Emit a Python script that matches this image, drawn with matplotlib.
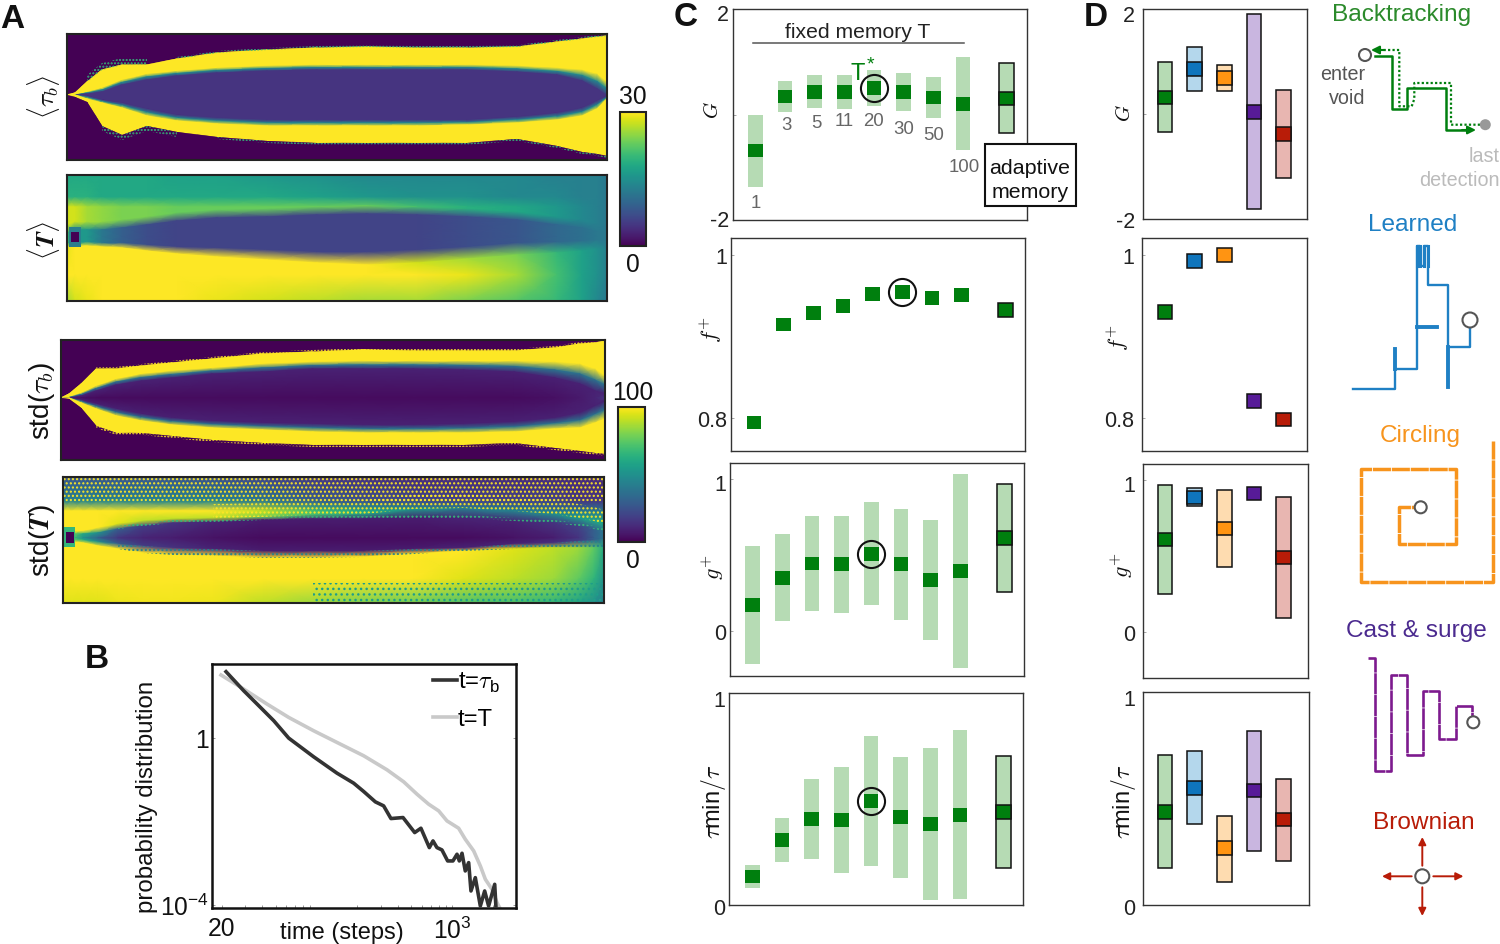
import numpy as np
import matplotlib
matplotlib.use('Agg')
import matplotlib.pyplot as plt
from matplotlib.patches import Rectangle, Circle
from matplotlib.transforms import ScaledTranslation
from matplotlib.ticker import NullFormatter

plt.rcParams['font.family'] = ['Liberation Sans', 'DejaVu Sans']
plt.rcParams['mathtext.fontset'] = 'cm'
plt.rcParams['hatch.linewidth'] = 1.0

W, H = 1500, 945

# ---------- panel A: level rows read across the map (grid cols, grid rows from top)
map_cols = np.array([0, 8, 20, 35, 55, 80, 110, 150, 200, 250, 300, 350, 400, 450, 490, 515, 530, 540])

tau_outer_up = np.array([61, 59, 48, 36, 31, 31, 25, 19, 16, 14, 13, 14, 14, 13, 8, 5, 3, 2.])
tau_yellow_up = np.array([61, 61, 58, 54, 46, 40, 37, 34, 32, 31, 31, 31, 31, 32, 34, 36, 40, 48.])
tau_core_up = np.array([61, 61, 60, 58, 51, 46, 42, 39, 37, 36, 36, 36, 36, 38, 41, 47, 55, 62.])
tau_core_lo = np.array([61, 61, 62, 66, 69, 75, 81, 84, 86, 86, 86, 86, 86, 83, 79, 74, 67, 62.])
tau_yellow_lo = np.array([61, 61, 65, 69, 74, 82, 87, 90, 92, 92, 92, 92, 91, 89, 86, 82, 75, 65.])
tau_outer_lo = np.array([61, 63, 68, 92, 101, 92, 98, 103, 107, 109, 109, 109, 109, 105, 112, 118, 120, 122.])

T_top_z = [18, 18, 18, 18, 18, 18, 17, 17, 16, 15, 14, 14, 14, 14, 13, 13, 13, 12]
T_r1_z = [19, 19, 19, 18, 18, 18, 18, 18, 18, 17, 16, 15, 15, 14, 14, 13, 13, 12]
T_band_z = [28, 28, 26, 25, 24, 24, 23, 23, 23, 23, 23, 21, 19, 18, 16, 14, 13, 12]
T_core_top = np.array([58, 55, 55, 55, 53, 50, 46, 43, 42, 40, 39, 40, 42, 45, 50, 53, 57, 57.])
T_core_bot = np.array([68, 68, 67, 68, 68, 70, 72, 73, 75, 77, 77, 75, 72, 68, 67, 66, 65, 65.])
T_core_z = [20, 16, 16, 12, 9, 7, 6, 6, 6, 6, 6, 6, 7, 8, 10, 11, 12, 12]
T_yellow_y = np.array([72, 72, 71, 72, 73, 76, 79, 82, 85, 88, 90, 88, 84, 80, 78, 76, 74, 74.])
T_yellow_z = [29, 30, 30, 30, 30, 30, 30, 30, 30, 30, 30, 28, 26, 24, 20, 17, 15, 13]
T_r8_z = [30, 30, 30, 30, 30, 30, 30, 30, 30, 30, 30, 30, 29, 26, 21, 17, 15, 13]
T_bot_z = [26, 28, 29, 30, 30, 30, 30, 29, 28, 27, 26, 26, 24, 22, 20, 17, 14, 12]

st_outer_up = np.array([58, 54, 44, 29, 29, 26, 23, 19, 14, 12, 10, 11, 11, 11, 8, 4, 3, 1.])
st_yellow_up = np.array([58, 57, 53, 46, 39, 34, 31, 28, 24, 22, 21, 21, 21, 21, 22, 24, 29, 36.])
st_dark_up = np.array([58, 58, 56, 51, 45, 41, 38, 34, 32, 29, 29, 29, 30, 32, 38, 44, 51, 54.])
st_dark_lo = np.array([58, 58, 60, 64, 69, 74, 78, 81, 83, 84, 85, 85, 84, 82, 78, 73, 66, 61.])
st_yellow_lo = np.array([58, 58, 63, 69, 76, 81, 85, 88, 90, 92, 93, 93, 93, 92, 89, 88, 83, 79.])
st_outer_lo = np.array([58, 59, 68, 86, 93, 93, 96, 100, 103, 105, 105, 105, 105, 103, 108, 111, 113, 114.])
st_center_z = [20, 8, 4, 3, 3, 3, 3, 3, 3, 3, 3, 3, 3, 3, 4, 7, 10, 15]

sT_r0_z = [26, 26, 26, 26, 26, 26, 26, 24, 20, 16, 14, 12, 12, 12, 12, 12, 12, 12]
sT_r1_z = [45, 45, 45, 45, 45, 45, 45, 45, 40, 30, 25, 22, 20, 20, 20, 16, 16, 16]
sT_r2_z = [100, 100, 100, 100, 100, 100, 100, 100, 90, 70, 60, 55, 50, 45, 40, 40, 40, 40]
sT_r3_y = np.array([54, 54, 54, 51, 47, 44, 42, 41, 40, 38, 37, 32, 31, 34, 37, 41, 44, 47.])
sT_r3_z = [100, 100, 100, 100, 95, 90, 90, 90, 80, 70, 60, 55, 45, 45, 50, 55, 60, 60]
sT_r4_y = np.array([57, 57, 57, 56, 52, 49, 46, 45, 43, 42, 42, 41, 41, 44, 46, 49, 52, 54.])
sT_r4_z = [90, 80, 60, 50, 30, 18, 15, 10, 8, 8, 8, 8, 10, 10, 15, 20, 30, 40]
sT_r5_z = [90, 70, 50, 30, 15, 10, 8, 5, 3, 3, 3, 3, 3, 5, 8, 15, 30, 40]
sT_r6_y = np.array([63, 63, 63, 65, 67, 69, 71, 72, 74, 74, 74, 72, 71, 67, 66, 64, 63, 62.])
sT_r7_y = np.array([65, 65, 66, 69, 72, 76, 78, 79, 81, 81, 80, 77, 74, 72, 71, 71, 71, 71.])
sT_r7_z = [100, 100, 100, 100, 100, 100, 100, 100, 100, 100, 100, 100, 100, 95, 90, 85, 75, 60]
sT_r8_z = [100, 100, 100, 100, 100, 100, 100, 100, 100, 100, 100, 100, 95, 90, 85, 75, 65, 50]
sT_r9_z = [95, 95, 95, 95, 97, 98, 98, 97, 90, 85, 80, 78, 72, 70, 65, 58, 50, 42]

# ---------- panel B (log10 coordinates)
tb_logx = [1.334, 1.464, 1.563, 1.686, 1.796, 1.980, 2.152, 2.275, 2.349, 2.435, 2.496, 2.550, 2.639, 2.725, 2.771,
           2.833, 2.860, 2.889, 2.926, 2.968, 3.007, 3.037, 3.054, 3.074, 3.098, 3.123, 3.140, 3.172, 3.209, 3.241,
           3.270, 3.315, 3.324]
tb_logy = [1.584, 1.128, .808, .408, -.008, -.456, -.848, -1.088, -1.288, -1.536, -1.632, -1.936, -1.912, -2.272,
           -2.168, -2.632, -2.472, -2.632, -2.688, -2.952, -2.952, -2.792, -2.952, -2.768, -3.192, -2.992, -3.672,
           -3.352, -4.032, -3.672, -4.032, -3.512, -4.05]
T_logx = [1.297, 1.464, 1.636, 1.796, 1.980, 2.152, 2.349, 2.521, 2.644, 2.742, 2.828, 2.902, 2.963, 3.049, 3.098,
          3.160, 3.209, 3.246, 3.295, 3.332, 3.351]
T_logy = [1.504, 1.168, .808, .488, .168, -.112, -.432, -.768, -1.056, -1.352, -1.592, -1.752, -1.992, -2.168,
          -2.432, -2.712, -3.072, -3.392, -3.632, -3.952, -4.07]

# ---------- panel C
memory_labels = ['1', '3', '5', '11', '20', '30', '50', '100']
c_pos = [0, 1, 2, 3, 4, 5, 6, 7, 8.48]
c_G_hi = [0.0, .627, .753, .746, .841, .791, .715, 1.087, .967]
c_G_lo = [-1.37, .054, .117, .104, .161, .066, -.066, -.677, -.356]
c_G_m = [-.683, .343, .431, .425, .501, .425, .324, .205, .305]
c_f_m = [.7945, .9146, .9287, .9372, .9524, .9543, .9476, .9506, .9323]
c_g_hi = [.555, .636, .759, .756, .846, .802, .727, 1.033, .969]
c_g_lo = [-.220, .066, .126, .119, .170, .073, -.064, -.249, .253]
c_g_m = [.167, .348, .443, .438, .507, .438, .332, .392, .612]
c_t_hi = [.190, .409, .594, .651, .796, .697, .739, .824, .704]
c_t_lo = [.082, .203, .217, .151, .182, .129, .022, .027, .175]
c_t_m = [.135, .307, .406, .401, .489, .414, .381, .426, .439]

# ---------- panel D
strategies = ['Backtracking', 'Learned', 'Circling', 'Cast & surge', 'Brownian']
d_G_hi = [.975, 1.26, .93, 1.90, .449]
d_G_lo = [-.354, .437, .43, -1.816, -1.215]
d_G_m = [.31, .848, .677, .038, -.386]
d_f_m = [.9305, .9927, 1.0, .8211, .798]
d_g_hi = [.967, .945, .932, .91, .884]
d_g_lo = [.249, .827, .429, .91, .092]
d_g_m = [.608, .884, .681, .91, .490]
d_t_hi = [.704, .721, .420, .817, .591]
d_t_lo = [.174, .378, .108, .255, .208]
d_t_m = [.437, .550, .266, .538, .401]

GREEN = '#007f0e'; GREEN_L = '#b6dbb4'
d_dark = [GREEN, '#0f75bc', '#ff9412', '#571b98', '#b81c08']
d_light = [GREEN_L, '#b4d7ec', '#fedcb0', '#c9b6e0', '#e8b6b1']

fig = plt.figure(figsize=(W / 100, H / 100), dpi=100)


def pxax(l, t, r, b, **kw):
    return fig.add_axes([l / W, 1 - b / H, (r - l) / W, (b - t) / H], **kw)


ov = fig.add_axes([0, 0, 1, 1], zorder=20)
ov.set_xlim(0, W); ov.set_ylim(H, 0); ov.axis('off'); ov.patch.set_alpha(0)


def otext(x, y, s, **kw):
    kw.setdefault('ha', 'center'); kw.setdefault('va', 'center')
    if kw.get('rotation'):
        x += 2
    else:
        y += 2
    return ov.text(x, y, s, **kw)


def heat(box, ncols, rows, zs, vmax):
    ax = pxax(*box)
    X = np.tile(ncols, (len(rows), 1))
    Y = np.array([np.broadcast_to(r, ncols.shape) for r in rows], dtype=float)
    Z = np.array([np.broadcast_to(z, ncols.shape) for z in zs], dtype=float)
    m = ax.pcolormesh(X, Y, Z, shading='gouraud', cmap='viridis', vmin=0, vmax=vmax, rasterized=True)
    ax.set_xlim(ncols[0], ncols[-1]); ax.set_ylim(126 if box[3] - box[1] > 122 else 120, 0)
    ax.set_xticks([]); ax.set_yticks([])
    for s in ax.spines.values():
        s.set_linewidth(1.5); s.set_color('#222222')
    return ax, m


def fringe(ax, lo, hi, idx, color='#35b779', hatch='.....'):
    ax.fill_between(map_cols[idx], lo[idx], hi[idx], facecolor='none', edgecolor=color, hatch=hatch, linewidth=0)


# A1
ax1, m1 = heat((67, 35, 607, 161), map_cols,
               [0, tau_outer_up - .5, tau_outer_up, tau_yellow_up, (tau_yellow_up + tau_core_up) / 2, tau_core_up,
                tau_core_lo, (tau_yellow_lo + tau_core_lo) / 2, tau_yellow_lo, tau_outer_lo, tau_outer_lo + .5, 126],
               [0, 0, 30, 30, 14, 4.5, 4.5, 14, 30, 30, 0, 0], 30)
fringe(ax1, tau_outer_up - 7, tau_outer_up, slice(2, 6))
fringe(ax1, tau_outer_up - 2, tau_outer_up, slice(6, 18))
fringe(ax1, tau_outer_lo, tau_outer_lo + 5, slice(3, 7))
fringe(ax1, tau_outer_lo, tau_outer_lo + 2, slice(7, 18))
# A2
ax2, m2 = heat((67, 176, 607, 302), map_cols,
               [0, 22, 32, T_core_top - 8, T_core_top, 62, T_core_bot, T_yellow_y, 100, 126],
               [T_top_z, T_r1_z, T_band_z, T_band_z, T_core_z, T_core_z, T_core_z, T_yellow_z, T_r8_z, T_bot_z], 30)
ax2.add_patch(Rectangle((2, 52), 12, 20, fc='#2a7f8e', ec='none'))
ax2.add_patch(Rectangle((4, 57), 8, 10, fc='#440154', ec='none'))
# A3
ax3, m3 = heat((61, 341, 605, 461), map_cols,
               [0, st_outer_up - .5, st_outer_up, st_yellow_up, (st_yellow_up + st_dark_up) / 2, st_dark_up, 58,
                st_dark_lo, (st_yellow_lo + st_dark_lo) / 2, st_yellow_lo, st_outer_lo, st_outer_lo + .5, 120],
               [0, 0, 100, 100, 38, 9, st_center_z, 9, 38, 100, 100, 0, 0], 100)
fringe(ax3, st_outer_up - 2, st_outer_up, slice(3, 18), '#fde725')
fringe(ax3, st_outer_lo, st_outer_lo + 2, slice(3, 18), '#fde725')
# A4
ax4, m4 = heat((63, 478, 604, 604), map_cols,
               [0, 24, 34, sT_r3_y, sT_r4_y, 61, sT_r6_y, sT_r7_y, 102, 126],
               [sT_r0_z, sT_r1_z, sT_r2_z, sT_r3_z, sT_r4_z, sT_r5_z, sT_r4_z, sT_r7_z, sT_r8_z, sT_r9_z], 100)
ax4.add_patch(Rectangle((1, 50), 11, 20, fc='#35b779', ec='none'))
ax4.add_patch(Rectangle((3, 55), 8, 11, fc='#440154', ec='none'))
fringe(ax4, np.zeros(18), np.full(18, 26.), slice(0, 18), '#fde725', '....')
fringe(ax4, sT_r3_y - 14, sT_r3_y, slice(7, 18), '#fde725', '....')
fringe(ax4, np.full(18, 106.), np.full(18, 126.), slice(9, 18), '#1f9e89', '...')
fringe(ax4, sT_r4_y - 3, sT_r4_y, slice(4, 18), '#35b779', '....')
fringe(ax4, sT_r6_y, sT_r7_y, slice(4, 18), '#26828e', '....')

# colorbars
for box, mesh, top, topy, boty, cx in [((620, 113, 646, 247), m1, '30', 95, 263, 633),
                                        ((618, 408, 645, 543), m3, '100', 391, 559, 633)]:
    cax = pxax(*box)
    cb = fig.colorbar(mesh, cax=cax)
    cb.set_ticks([])
    cb.outline.set_linewidth(1.5); cb.outline.set_edgecolor('#222222')
    otext(cx, topy, top, fontsize=17.7, color='#111111')
    otext(cx, boty, '0', fontsize=17.7, color='#111111')

for (x, y, s, fs) in [(41, 97, r'$\langle\tau_b\rangle$', 18.5), (41, 240, r'$\langle \boldsymbol{T}\rangle$', 18.5),
                      (40, 401, r'std($\tau_b$)', 20), (40, 541, r'std($\boldsymbol{T}$)', 20)]:
    otext(x, y, s, rotation=90, fontsize=fs, color='#111111')

# B
axb = pxax(212, 665, 516, 909)
axb.set_xscale('log'); axb.set_yscale('log')
axb.plot(10 ** np.array(T_logx), 10 ** np.array(T_logy), color='#c9c9c9', lw=2.6, label=r't=T', zorder=2)
axb.plot(10 ** np.array(tb_logx), 10 ** np.array(tb_logy), color='#333333', lw=2.6, label=r't=$\tau_{\mathdefault{b}}$', zorder=3)
axb.set_xlim(17.0, 2965); axb.set_ylim(10 ** -4.08, 10 ** 1.768)
axb.set_xticks([20, 1000], ['20', r'$\mathdefault{10^{3}}$'])
axb.set_yticks([1, 1e-4], ['1', r'$\mathdefault{10^{-4}}$'])
axb.xaxis.set_minor_formatter(NullFormatter()); axb.yaxis.set_minor_locator(plt.NullLocator())
axb.tick_params(which='both', direction='in', length=2, width=.6, color='#888888', right=True, labelsize=17.7, pad=2.5, labelcolor='#111111')
axb.tick_params(axis='x', pad=6)
for s in axb.spines.values():
    s.set_linewidth(1.8); s.set_color('#111111')
h, l = axb.get_legend_handles_labels()
axb.legend(h[::-1], l[::-1], loc='upper left', bbox_to_anchor=((428 - 212) / 304, .995), frameon=False, fontsize=17.2,
           handlelength=1.0, handletextpad=.06, labelspacing=.6, borderaxespad=.2, borderpad=0)
otext(145, 797, 'probability distribution', rotation=90, fontsize=17.3, color='#111111')
otext(342, 931, 'time (steps)', fontsize=17, color='#111111')


def style(ax, p0, s, ylim, ticks, labels, dys, pad):
    bb = ax.get_position()
    l, r = bb.x0 * W, bb.x1 * W
    ax.set_xlim((l - p0) / s, (r - p0) / s)
    ax.set_ylim(*ylim)
    ax.set_xticks([])
    ax.set_yticks(ticks, labels)
    ax.tick_params(axis='y', direction='in', length=2, width=.6, color='#999999', labelsize=15.5, pad=pad, labelcolor='#222222')
    for lab, dy in zip(ax.get_yticklabels(), dys):
        lab.set_transform(lab.get_transform() + ScaledTranslation(0, -dy / 100, fig.dpi_scale_trans))
    for sp in ax.spines.values():
        sp.set_linewidth(1.0); sp.set_color('#333333')


def marks(ax, pos, hi, lo, m, dark, light, edged):
    y0, y1 = ax.get_ylim()
    px = ax.get_position().height * H
    bh = 13.7 * (y1 - y0) / px
    for i, x in enumerate(pos):
        ec = '#111111' if edged[i] else 'none'
        if hi is not None and hi[i] != lo[i]:
            ax.bar(x, hi[i] - lo[i], bottom=lo[i], width=.5, color=light[i], edgecolor=ec, linewidth=1.1, zorder=2)
        ax.bar(x, bh, bottom=m[i] - bh / 2, width=.5, color=dark[i], edgecolor=ec, linewidth=1.1, zorder=3)


c_dark = [GREEN] * 9; c_light = [GREEN_L] * 9
c_edge = [False] * 8 + [True]
d_edge = [True] * 5
S = 29.67
# C panels
cspec = [((733, 10, 1027, 221), 755.3, (-2, 2), [2, 0, -2], ['2', '', '-2'], [3, 0, -2], c_G_hi, c_G_lo, c_G_m, 4),
         ((731, 239, 1025, 452), 754, (.7595, 1.0209), [1, .8], ['1', '0.8'], [0, 0], None, None, c_f_m, 5),
         ((730, 464, 1024, 677), 752.7, (-.2996, 1.1057), [1, 0], ['1', '0'], [3, 0], c_g_hi, c_g_lo, c_g_m, 4),
         ((729, 694, 1023, 906), 752.3, (0, 1), [1, 0], ['1', '0'], [5, 1], c_t_hi, c_t_lo, c_t_m, 4)]
for box, p0, yl, tk, tl, dy, hi, lo, m, ci in cspec:
    ax = pxax(*box)
    style(ax, p0, S, yl, tk, tl, dy, 3)
    marks(ax, c_pos, hi, lo, m, c_dark, c_light, c_edge)
    ax.plot(c_pos[ci], m[ci], 'o', ms=19.5, mfc='none', mec='#111111', mew=1.5, zorder=5)

dspec = [((1143, 9.5, 1307, 220), (-2, 2), [2, 0, -2], ['2', '', '-2'], [5, 0, 0], d_G_hi, d_G_lo, d_G_m),
         ((1142, 239, 1307, 452), (.7595, 1.0209), [1, .8], ['1', '0.8'], [0, 0], None, None, d_f_m),
         ((1143, 465, 1308, 679), (-.2998, 1.103), [1, 0], ['1', '0'], [3, 0], d_g_hi, d_g_lo, d_g_m),
         ((1143, 693, 1309, 906), (0, 1), [1, 0], ['1', '0'], [5, 1], d_t_hi, d_t_lo, d_t_m)]
for box, yl, tk, tl, dy, hi, lo, m in dspec:
    ax = pxax(*box)
    style(ax, 1165, S, yl, tk, tl, dy, 5.5)
    marks(ax, range(5), hi, lo, m, d_dark, d_light, d_edge)

# y labels of C and D
ylab = [(711, 110, 1122, 113, r'$G$', 15), (709, 330, 1116, 338, r'$f^{+}$', 16),
        (711, 567, 1120, 565, r'$g^{+}$', 16), (711, 802, 1121, 802, r'$\tau$min$/\tau$', 17)]
for x1, y1, x2, y2, s, fs in ylab:
    otext(x1, y1, s, rotation=90, fontsize=fs, color='#111111')
    otext(x2, y2, s, rotation=90, fontsize=fs, color='#111111')

# C annotations
otext(858, 31, 'fixed memory T', fontsize=15.2, color='#222222')
ov.plot([753, 964], [44.3, 44.3], color='#555555', lw=1.1)
otext(858, 72, 'T', fontsize=17, color=GREEN)
otext(870, 63, '*', fontsize=14, color=GREEN)
for s, x, y in zip(memory_labels, [756, 786, 816, 844, 874, 904, 934, 964], [201, 123, 121, 120, 120, 127, 133, 166]):
    otext(x, y, s, fontsize=13.4, color='#666666')
ov.add_patch(Rectangle((984.5, 145), 91, 62, fc='white', ec='#111111', lw=1.5))
otext(1030, 166, 'adaptive', fontsize=15.4, color='#111111')
otext(1030, 190, 'memory', fontsize=15.4, color='#111111')

for s, x, y in [('A', 12, 17), ('B', 97, 657), ('C', 686, 15), ('D', 1096, 15)]:
    otext(x, y, s, fontsize=24, fontweight='bold', color='#111111')

# strategy titles
titles = [(1402, 13, '#2b8a2b'), (1412.7, 223, '#1f80c4'), (1420.7, 434, '#f7941d'), (1416.7, 629, '#4b2a8f'), (1424, 821, '#b81c08')]
for s, (x, y, c) in zip(strategies, titles):
    otext(x, y, s, fontsize=17.6, color=c)


def open_circle(x, y, r=6):
    ov.add_patch(Circle((x, y), r, fc='white', ec='#555555', lw=1.5, zorder=6))


def arrow(x0, y0, x1, y1, c, lw=1.4, ms=11):
    ov.annotate('', xy=(x1, y1), xytext=(x0, y0),
                arrowprops=dict(arrowstyle='-|>', color=c, lw=lw, mutation_scale=ms, shrinkA=0, shrinkB=0))


# Backtracking schematic
ov.plot([1375, 1392.3, 1392.3, 1407.3, 1407.3, 1446, 1446, 1468], [57.3, 57.3, 110, 110, 89, 89, 131, 131], color=GREEN, lw=1.8)
arrow(1462, 131, 1476, 131, GREEN, 1.5, 12)
ov.plot([1480, 1451, 1451, 1414.3, 1414.3, 1411.7, 1399.3, 1399.3, 1380], [125.7, 125.7, 84, 84, 100, 107.3, 107.3, 51, 51],
        color=GREEN, lw=1.6, ls=(0, (1, 1)))
arrow(1384, 51, 1371, 51, GREEN, 1.5, 12)
open_circle(1365, 56)
ov.add_patch(Circle((1485.3, 125.7), 5.5, fc='#999999', ec='none', zorder=6))
otext(1343, 73, 'enter', fontsize=14.2, color='#555555')
otext(1347, 97, 'void', fontsize=14.2, color='#555555')
otext(1500, 155, 'last', ha='right', fontsize=14.2, color='#bbbbbb')
otext(1500, 179, 'detection', ha='right', fontsize=14.2, color='#bbbbbb')

# Learned schematic
BL = '#1f80c4'
ov.plot([1353.3, 1395, 1395, 1416.7, 1416.7, 1420, 1420, 1424, 1424, 1428.3, 1428.3, 1447.7, 1447.7, 1470, 1470],
        [390, 390, 370, 370, 246.7, 246.7, 266.7, 266.7, 246.7, 246.7, 286, 286, 348, 348, 328], color=BL, lw=1.7)
for tx in [1416.7, 1420, 1424, 1428.3]:
    ov.plot([tx, tx], [246.7, 266.7], color=BL, lw=2.2)
ov.plot([1447.7, 1447.7], [348, 388], color=BL, lw=2.8)
ov.plot([1416.7, 1436.7], [328, 328], color=BL, lw=2.8)
ov.plot([1395, 1395], [350, 370], color=BL, lw=2.8)
open_circle(1470, 321, 7.5)

# Circling schematic
OR = '#f7941d'
ov.plot([1493.3, 1493.3, 1361, 1361, 1455.7, 1455.7, 1399, 1399, 1415], [441.7, 582.7, 582.7, 470, 470, 545, 545, 507.7, 507.7],
        color=OR, lw=2.5, ls=(0, (5.2, .25)), solid_joinstyle='round')
open_circle(1420.7, 508.3)

# Cast & surge schematic
ov.plot([1368.3, 1374.7, 1374.7, 1391, 1391, 1407.3, 1407.3, 1423.3, 1423.3, 1439.3, 1439.3, 1455.7, 1455.7, 1472, 1472],
        [659, 659, 771.7, 771.7, 675.7, 675.7, 755.7, 755.7, 691.7, 691.7, 740, 740, 707.3, 707.3, 718],
        color='#7d1a8e', lw=1.9, ls=(0, (8, .25)))
open_circle(1473.3, 723.3)

# Brownian schematic
RD = '#b81c08'
arrow(1422.3, 866.7, 1422.3, 838, RD)
arrow(1422.3, 888.3, 1422.3, 917, RD)
arrow(1411.7, 877.3, 1382, 877.3, RD)
arrow(1433.3, 877.3, 1463.5, 877.3, RD)
open_circle(1422.3, 877.3, 7)

fig.savefig('out.png', dpi=100)
